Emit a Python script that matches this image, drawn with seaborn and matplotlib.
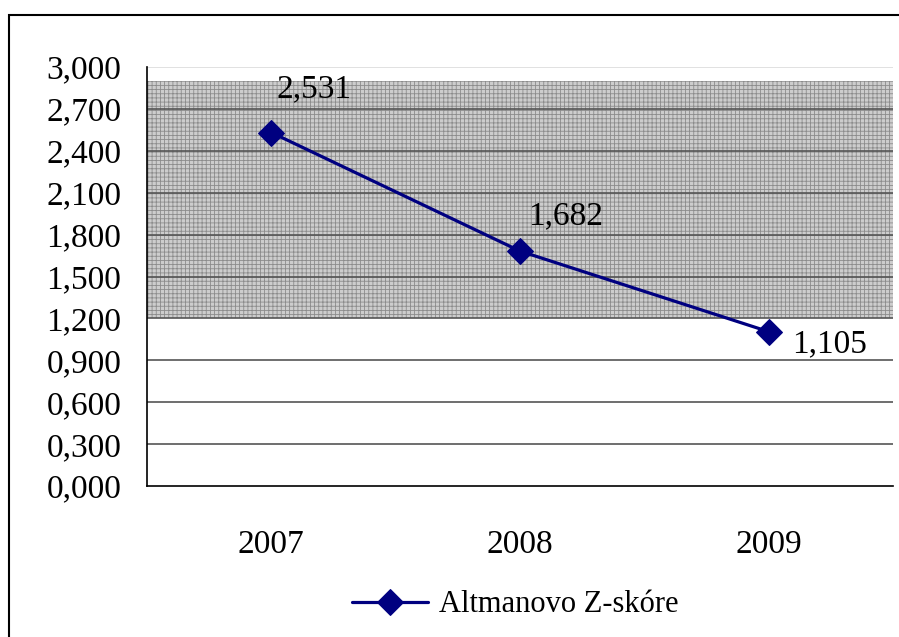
import matplotlib
matplotlib.use("Agg")
import matplotlib.pyplot as plt
import seaborn as sns
import pandas as pd
from matplotlib.patches import Rectangle
from matplotlib.ticker import FixedLocator

years = ["2007", "2008", "2009"]
z_scores = [2.531, 1.682, 1.105]
series_name = "Altmanovo Z-skóre"
grey_zone = [1.2, 2.9]
y_ticks = [0.0, 0.3, 0.6, 0.9, 1.2, 1.5, 1.8, 2.1, 2.4, 2.7, 3.0]

sns.set_style("white")
plt.rcParams["font.family"] = ["Liberation Serif", "DejaVu Serif"]
plt.rcParams["hatch.linewidth"] = 0.6
plt.rcParams["text.color"] = "black"
plt.rcParams["xtick.labelcolor"] = "black"
plt.rcParams["ytick.labelcolor"] = "black"

df = pd.DataFrame({"Rok": years, "Z": z_scores})

fig = plt.figure(figsize=(8.99, 6.37), dpi=100)
ax = fig.add_axes([147/899, 1-486/637, (893-147)/899, (486-67)/637])

ax.axhspan(grey_zone[0], grey_zone[1], facecolor="#cdcdcd", edgecolor="#8c8c8c",
           hatch="++++", linewidth=0, zorder=0)

for v in y_ticks[1:]:
    col = "#dcdcdc" if v == 3.0 else "#555555"
    ax.axhline(v, color=col, linewidth=1.2, zorder=1)

sns.lineplot(data=df, x="Rok", y="Z", ax=ax, color="#000080", linewidth=2.3,
             marker="D", markersize=13.5, markeredgecolor="#000080",
             label=series_name, zorder=3, legend=False)

ax.set_xlim(-0.5, 2.5)
ax.set_ylim(0, 3.0)
ax.set_yticks(y_ticks)
ax.set_yticklabels([f"{v:.3f}".replace(".", ",") for v in y_ticks])
ax.set_xticks(range(len(years)))
ax.set_xticklabels(years)
ax.xaxis.set_minor_locator(FixedLocator([-0.5, 0.5, 1.5, 2.5]))
ax.tick_params(axis="x", which="major", length=0, pad=31, labelsize=24, labelcolor="black")
ax.tick_params(axis="x", which="minor", length=7.5, width=1, color="#333333", direction="out")
ax.tick_params(axis="y", length=7.5, width=1, color="#333333", direction="out", pad=11,
               labelsize=24, labelcolor="black")
ax.set_xlabel("")
ax.set_ylabel("")

for s in ["top", "right"]:
    ax.spines[s].set_visible(False)
ax.spines["left"].set_color("black")
ax.spines["left"].set_linewidth(1.2)
ax.spines["bottom"].set_color("black")
ax.spines["bottom"].set_linewidth(1.2)

offsets = [(4, 31), (6, 25), (17, -9)]
for i, (v, off) in enumerate(zip(z_scores, offsets)):
    ax.annotate(f"{v:.3f}".replace(".", ","), xy=(i, v), xytext=off,
                textcoords="offset points", ha="left", va="center", fontsize=24,
                color="black", zorder=4)

handles, labels = ax.get_legend_handles_labels()
leg = fig.legend(handles, labels, loc="center", bbox_to_anchor=(515/899, 1-605/637),
                 frameon=False, fontsize=22, handlelength=2.5, handletextpad=0.35)
for t in leg.get_texts():
    t.set_color("black")

fig.patches.append(Rectangle((9/899, -0.1), 1.2, 1.1 - 15/637, transform=fig.transFigure,
                             fill=False, edgecolor="black", linewidth=1.5))

fig.savefig("out.png", dpi=100)
